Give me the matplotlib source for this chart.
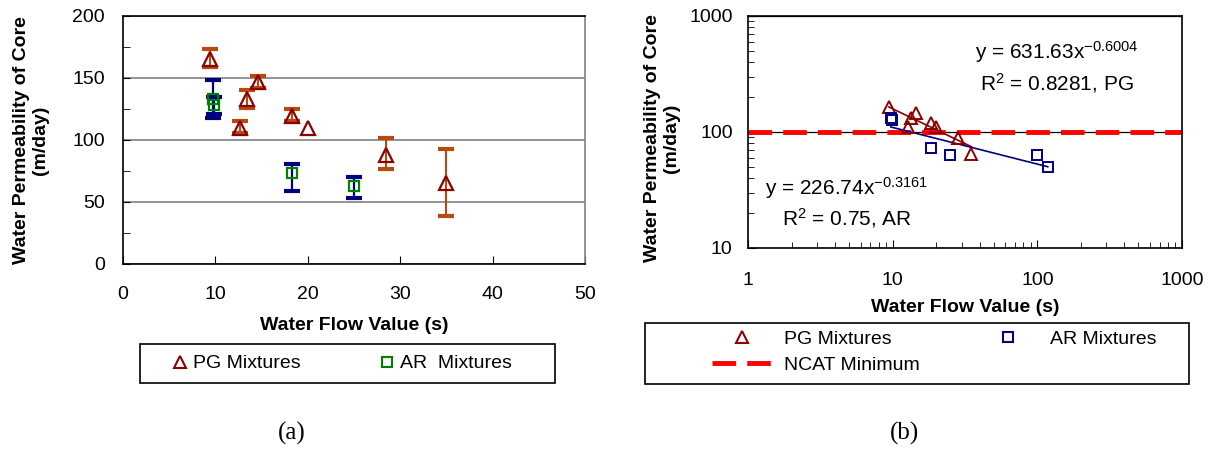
import matplotlib
matplotlib.use('Agg')
import matplotlib.pyplot as plt
import matplotlib.ticker as mticker
from matplotlib.lines import Line2D
from matplotlib.patches import Rectangle
import numpy as np

plt.rcParams['font.family'] = 'Liberation Sans'
plt.rcParams['mathtext.fontset'] = 'custom'
plt.rcParams['mathtext.rm'] = 'Liberation Sans'
plt.rcParams['mathtext.it'] = 'Liberation Sans'
plt.rcParams['lines.scale_dashes'] = False

# data
pg_flow = [9.4, 12.7, 13.4, 14.6, 18.3, 20.0, 28.5, 35.0]
pg_perm = [165, 110, 133, 147, 119, 110, 88, 65]
pg_err_lo = [6, 4, 7, 5, 4, np.nan, 11, 26]
pg_err_hi = [8, 5, 7, 5, 6, np.nan, 14, 28]

ar_flow = [9.7, 9.9, 18.3, 25.0, 99, 118]
ar_perm = [133, 128, 73, 63, 63, 50]
ar_err_lo = [15, 7, 14, 10, np.nan, np.nan]
ar_err_hi = [15, 7, 8, 7, np.nan, np.nan]

pg_fit = (631.63, -0.6004, 0.8281)
ar_fit = (226.74, -0.3161, 0.75)
ncat_min = 100

W, H = 1230, 450
def fx(px): return px / W
def fy(py): return 1 - py / H

fig = plt.figure(figsize=(12.3, 4.5), dpi=100)

dark_red = '#8B0000'
rust = '#B84A10'
navy = '#000080'
green = '#008000'
fs = 14

# ---------- (a) linear ----------
ax1 = fig.add_axes([fx(123), fy(264), (585 - 123) / W, (264 - 16) / H])
ax1.errorbar(pg_flow, pg_perm, yerr=[pg_err_lo, pg_err_hi], fmt='none',
             ecolor=rust, elinewidth=1.5, capsize=6, capthick=3, zorder=2)
ax1.plot(pg_flow, pg_perm, '^', mfc='none', mec=dark_red, ms=9.5, mew=1.6, zorder=3)
ax1.errorbar(ar_flow, ar_perm, yerr=[ar_err_lo, ar_err_hi], fmt='none',
             ecolor=navy, elinewidth=1.6, capsize=6, capthick=3, zorder=2)
ax1.plot(ar_flow, ar_perm, 's', mfc='none', mec=green, ms=7.5, mew=1.6, zorder=3)
ax1.set_xlim(0, 50)
ax1.set_ylim(0, 200)
ax1.xaxis.set_major_locator(mticker.MultipleLocator(10))
ax1.yaxis.set_major_locator(mticker.MultipleLocator(50))
ax1.yaxis.set_minor_locator(mticker.MultipleLocator(25))
ax1.tick_params(axis='both', which='both', direction='in', labelsize=fs)
ax1.tick_params(axis='x', which='major', length=6, pad=16)
ax1.tick_params(axis='y', which='both', length=5, pad=13)
ax1.yaxis.grid(True, which='major', color='#808080', lw=1.2)
for t in ax1.yaxis.get_major_ticks():
    if t.get_loc() == ncat_min:
        t.gridline.set_color('#303030')
ax1.spines['right'].set_color('#808080')
for s in ax1.spines.values():
    s.set_linewidth(1.2)

fig.text(fx(31), fy(140), 'Water Permeability of Core\n(m/day)', rotation=90,
         ha='center', va='center', fontsize=fs, fontweight='bold')
fig.text(fx(354), fy(326), 'Water Flow Value (s)', ha='center', va='center',
         fontsize=fs, fontweight='bold')

h_pg1 = Line2D([], [], ls='none', marker='^', mfc='none', mec=dark_red, ms=8, mew=1.5)
h_ar1 = Line2D([], [], ls='none', marker='s', mfc='none', mec=green, ms=6.5, mew=1.5)
fig.legend([h_pg1, h_ar1], ['PG Mixtures', 'AR  Mixtures'], ncol=2, frameon=False,
           loc='center left', bbox_to_anchor=(fx(174), fy(363.5)), fontsize=fs,
           borderpad=0, borderaxespad=0, handlelength=0.6, handletextpad=0.4,
           columnspacing=4.1)
fig.add_artist(Rectangle((fx(140), fy(383)), (555 - 140) / W, (383 - 344) / H,
                         transform=fig.transFigure, fill=False, ec='black', lw=1.2))
fig.text(fx(292), fy(433), '(a)', ha='center', va='center', fontsize=18,
         family='Liberation Serif')

# ---------- (b) log-log ----------
ax2 = fig.add_axes([fx(748), fy(248), (1182 - 748) / W, (248 - 16) / H])
ax2.set_xscale('log')
ax2.set_yscale('log')
ax2.axhline(ncat_min, color='red', lw=3.5, dashes=(17, 8), zorder=2)
ax2.plot(pg_flow, pg_perm, '^', mfc='none', mec=dark_red, ms=9, mew=1.4, zorder=4)
ax2.plot(ar_flow, ar_perm, 's', mfc='none', mec=navy, ms=7.5, mew=1.4, zorder=4)
xp = np.geomspace(min(pg_flow), max(pg_flow), 50)
ax2.plot(xp, pg_fit[0] * xp ** pg_fit[1], color=dark_red, lw=1.2, zorder=3)
xa = np.geomspace(min(ar_flow), max(ar_flow), 50)
ax2.plot(xa, ar_fit[0] * xa ** ar_fit[1], color=navy, lw=1.2, zorder=3)
ax2.set_xlim(1, 1000)
ax2.set_ylim(10, 1000)
ax2.xaxis.set_major_formatter(mticker.FormatStrFormatter('%d'))
ax2.yaxis.set_major_formatter(mticker.FormatStrFormatter('%d'))
ax2.xaxis.set_minor_formatter(mticker.NullFormatter())
ax2.yaxis.set_minor_formatter(mticker.NullFormatter())
ax2.tick_params(axis='both', which='both', direction='in', labelsize=fs)
ax2.tick_params(axis='both', which='major', length=6)
ax2.tick_params(axis='both', which='minor', length=4)
ax2.tick_params(axis='x', which='both', pad=17)
ax2.tick_params(axis='y', which='both', pad=11)
ax2.yaxis.grid(True, which='major', color='black', lw=0.9)
for s in ax2.spines.values():
    s.set_linewidth(1.2)

afs = 15
ax2.text(0.712, 0.845, 'y = %.2fx$^{%.4f}$' % pg_fit[:2],
         transform=ax2.transAxes, ha='center', va='center', fontsize=afs)
ax2.text(0.712, 0.711, 'R$^{2}$ = %.4f, PG' % pg_fit[2],
         transform=ax2.transAxes, ha='center', va='center', fontsize=afs)
ax2.text(0.04, 0.26, 'y = %.2fx$^{%.4f}$' % ar_fit[:2],
         transform=ax2.transAxes, ha='left', va='center', fontsize=afs)
ax2.text(0.078, 0.13, 'R$^{2}$ = %.2f, AR' % ar_fit[2],
         transform=ax2.transAxes, ha='left', va='center', fontsize=afs)

fig.text(fx(662), fy(138), 'Water Permeability of Core\n(m/day)', rotation=90,
         ha='center', va='center', fontsize=fs, fontweight='bold')
fig.text(fx(965), fy(308), 'Water Flow Value (s)', ha='center', va='center',
         fontsize=fs, fontweight='bold')

h_pg2 = Line2D([], [], ls='none', marker='^', mfc='none', mec=dark_red, ms=8, mew=1.5)
h_ar2 = Line2D([], [], ls='none', marker='s', mfc='none', mec=navy, ms=6.5, mew=1.5)
h_nc = Line2D([], [], color='red', lw=3.5, dashes=(17, 8))
fig.legend([h_pg2, h_nc, h_ar2], ['PG Mixtures', 'NCAT Minimum', 'AR Mixtures'],
           ncol=2, frameon=False, loc='center left',
           bbox_to_anchor=(fx(712), fy(352)), fontsize=fs, borderpad=0,
           borderaxespad=0, handlelength=3.1, handletextpad=0.6,
           columnspacing=3.0, labelspacing=0.4)
fig.add_artist(Rectangle((fx(645), fy(384)), (1189 - 645) / W, (384 - 323) / H,
                         transform=fig.transFigure, fill=False, ec='black', lw=1.2))
fig.text(fx(905), fy(433), '(b)', ha='center', va='center', fontsize=18,
         family='Liberation Serif')

fig.savefig('out.png', dpi=100)
